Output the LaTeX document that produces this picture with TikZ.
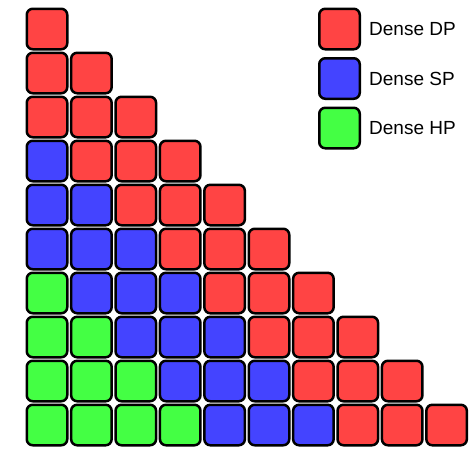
\documentclass[tikz,border=0pt]{standalone}
\usepackage{fontspec}
\setmainfont{Liberation Sans}
\usetikzlibrary{positioning}
\definecolor{dpred}{RGB}{255,68,68}
\definecolor{spblue}{RGB}{68,68,255}
\definecolor{hpgreen}{RGB}{68,255,68}

\begin{document}
\begin{tikzpicture}[x=1pt, y=-1pt,
    cell/.style={draw=black, line width=2.5pt, rounded corners=6pt, minimum size=40.5pt, inner sep=0pt},
    key/.style={anchor=west, inner sep=0pt, font=\fontsize{19}{22}\selectfont}]
    \useasboundingbox (0,0) rectangle (472,448);

    % triangle of tiles
    \foreach \r in {1,...,10} {
        \foreach \c in {1,...,\r} {
            \pgfmathtruncatemacro{\d}{\r-\c}
            \ifnum\d<3 \def\tilecol{dpred}\else\ifnum\d<6 \def\tilecol{spblue}\else\def\tilecol{hpgreen}\fi\fi
            \node[cell, fill=\tilecol] (c-\r-\c) at ({47+(\c-1)*44.4}, {29+(\r-1)*44}) {};
        }
    }

    % legend
    \node[cell, fill=dpred] (dp) at (339.5,29) {};
    \node[cell, fill=spblue] (sp) at (339.5,78.5) {};
    \node[cell, fill=hpgreen] (hp) at (339.5,128) {};
    \node[key, right=8pt of dp] (dp-label) {Dense DP};
    \node[key, right=8pt of sp] (sp-label) {Dense SP};
    \node[key, right=8pt of hp] (hp-label) {Dense HP};
\end{tikzpicture}
\end{document}
